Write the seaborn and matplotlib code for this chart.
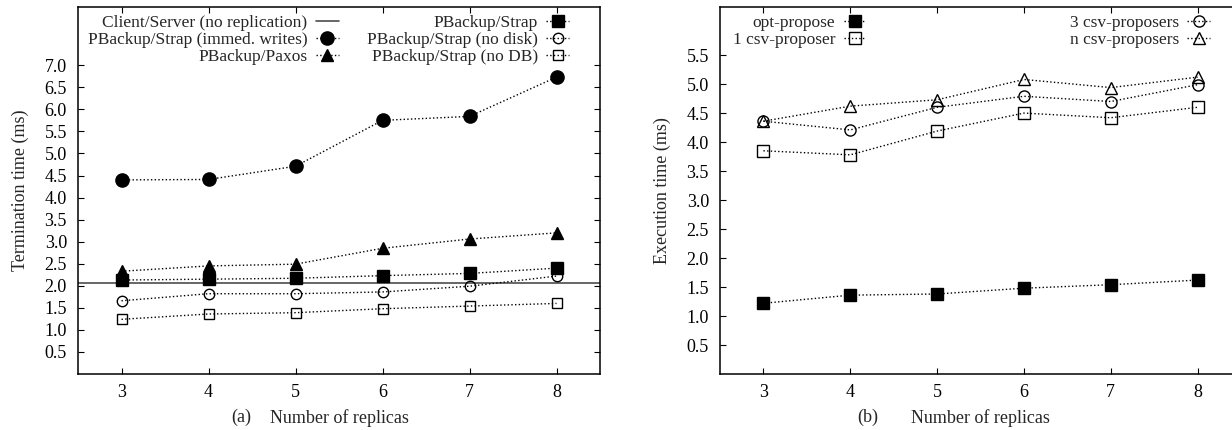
import numpy as np
import pandas as pd
import seaborn as sns
import matplotlib
matplotlib.use("Agg")
from matplotlib import pyplot as plt
from matplotlib.lines import Line2D

# Datos
replicas = [3, 4, 5, 6, 7, 8]

# (a) tiempo de terminacion (ms)
client_server = 2.07
strap_immed = [4.40, 4.41, 4.71, 5.75, 5.84, 6.73]
paxos = [2.33, 2.45, 2.49, 2.85, 3.06, 3.20]
strap = [2.13, 2.15, 2.17, 2.23, 2.28, 2.40]
strap_no_disk = [1.66, 1.82, 1.82, 1.86, 1.99, 2.22]
strap_no_db = [1.24, 1.36, 1.39, 1.48, 1.54, 1.60]

# (b) tiempo de ejecucion (ms)
opt_propose = [1.22, 1.36, 1.38, 1.48, 1.54, 1.62]
csv_1 = [3.85, 3.78, 4.19, 4.50, 4.42, 4.60]
csv_3 = [4.36, 4.21, 4.60, 4.79, 4.70, 4.99]
csv_n = [4.36, 4.62, 4.73, 5.08, 4.94, 5.12]

ticks_a = [0.5, 1.0, 1.5, 2.0, 2.5, 3.0, 3.5, 4.0, 4.5, 5.0, 5.5, 6.0, 6.5, 7.0]
ticks_b = [0.5, 1.0, 1.5, 2.0, 2.5, 3.0, 3.5, 4.0, 4.5, 5.0, 5.5]

#Estilo general (seaborn fija tamaños propios, se sobreescriben)
sns.set_theme(style="ticks")
FS = 13
plt.rcParams['font.family'] = ['Liberation Serif', 'DejaVu Serif']
plt.rcParams['font.size'] = FS
plt.rcParams['axes.labelsize'] = FS
plt.rcParams['legend.fontsize'] = 12.5
plt.rcParams['xtick.labelsize'] = FS
plt.rcParams['ytick.labelsize'] = FS
plt.rcParams['axes.linewidth'] = 1.1
plt.rcParams['xtick.direction'] = 'in'
plt.rcParams['ytick.direction'] = 'in'

W, H = 1232, 430
fig = plt.figure(figsize=(W / 100, H / 100), dpi=100)
ax1 = fig.add_axes([78 / W, (H - 374) / H, 522 / W, 367 / H])
ax2 = fig.add_axes([720 / W, (H - 374) / H, 521 / W, 367 / H])


def serie(ax, y, marker, filled, ms, label):
    #Dibujar una serie con linea punteada
    estilo = dict(color='black', linestyle=':', linewidth=1.0, marker=marker, markersize=ms,
                  markeredgewidth=1.0, markerfacecolor='black' if filled else 'none',
                  markeredgecolor='black')
    sns.lineplot(x=replicas, y=y, ax=ax, label=label, legend=False, **estilo)
    return Line2D([], [], **estilo)


leyenda = dict(ncol=2, markerfirst=False, frameon=False, loc='upper right',
               borderaxespad=0, borderpad=0, handlelength=1.3, handletextpad=0.5,
               labelspacing=0.04)

#Grafica (a)
ax1.axhline(client_server, color='0.3', linewidth=1.2)
h_cs = Line2D([], [], color='0.3', linewidth=1.2)
h_imm = serie(ax1, strap_immed, 'o', True, 9.5, 'PBackup/Strap (immed. writes)')
h_pax = serie(ax1, paxos, '^', True, 8, 'PBackup/Paxos')
h_str = serie(ax1, strap, 's', True, 8, 'PBackup/Strap')
h_nd = serie(ax1, strap_no_disk, 'o', False, 7.5, 'PBackup/Strap (no disk)')
h_ndb = serie(ax1, strap_no_db, 's', False, 7.5, 'PBackup/Strap (no DB)')

ax1.legend([h_cs, h_imm, h_pax, h_str, h_nd, h_ndb],
           ['Client/Server (no replication)', 'PBackup/Strap (immed. writes)', 'PBackup/Paxos',
            'PBackup/Strap', 'PBackup/Strap (no disk)', 'PBackup/Strap (no DB)'],
           bbox_to_anchor=(0.9406, 0.978), columnspacing=1.63, **leyenda)

ax1.set_xlim(2.5, 8.5)
ax1.set_ylim(0, 8.32)
ax1.set_yticks(ticks_a)
ax1.set_yticklabels([f'{t:.1f}' for t in ticks_a])
ax1.set_ylabel('Termination time (ms)', labelpad=11)
ax1.set_xlabel('Number of replicas', labelpad=6)
ax1.text(0.313, -0.118, '(a)', transform=ax1.transAxes, ha='center', va='center')

#Grafica (b)
h_opt = serie(ax2, opt_propose, 's', True, 8, 'opt-propose')
h_c1 = serie(ax2, csv_1, 's', False, 8, '1 csv-proposer')
h_c3 = serie(ax2, csv_3, 'o', False, 8, '3 csv-proposers')
h_cn = serie(ax2, csv_n, '^', False, 8, 'n csv-proposers')

ax2.legend([h_opt, h_c1, h_c3, h_cn],
           ['opt-propose', '1 csv-proposer', '3 csv-proposers', 'n csv-proposers'],
           bbox_to_anchor=(0.9405, 0.978), columnspacing=11.7, **leyenda)

ax2.set_xlim(2.5, 8.5)
ax2.set_ylim(0, 6.33)
ax2.set_yticks(ticks_b)
ax2.set_yticklabels([f'{t:.1f}' for t in ticks_b])
ax2.set_ylabel('Execution time (ms)', labelpad=11)
ax2.set_xlabel('Number of replicas', labelpad=6)
ax2.text(0.284, -0.118, '(b)', transform=ax2.transAxes, ha='center', va='center')

for ax in (ax1, ax2):
    ax.set_xticks(replicas)
    ax.tick_params(top=True, right=True, length=4, width=0.8, colors='black')
    ax.tick_params(axis='y', pad=8)
    ax.tick_params(axis='x', pad=7)
    for s in ax.spines.values():
        s.set_visible(True)
        s.set_color('black')
    ax.grid(False)

fig.savefig('out.png', dpi=100)
